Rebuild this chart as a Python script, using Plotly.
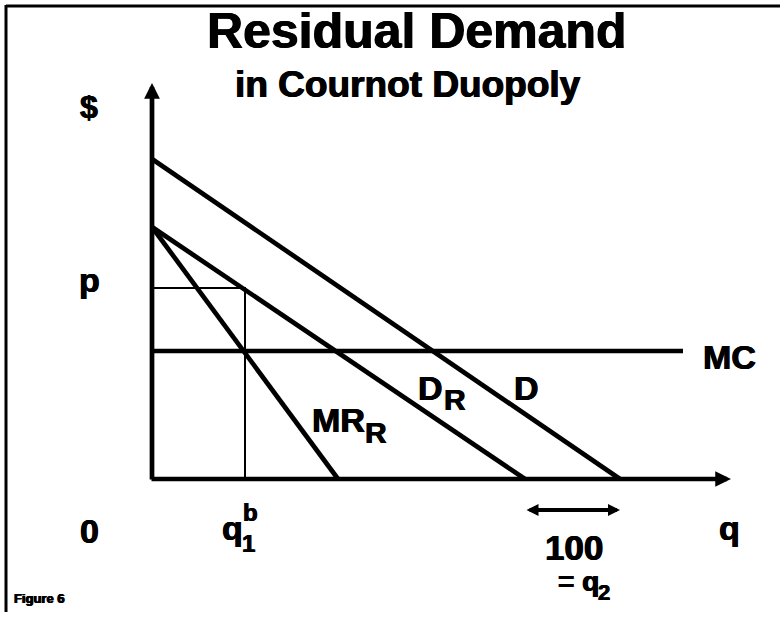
import plotly.graph_objects as go

# ---- data (arbitrary units: quantity q, price $) ----
demand_q = [0, 468]          # market demand D: q-intercept
demand_p = [320, 0]          # price intercept
resid_q = [0, 373]           # residual demand D_R
resid_p = [252, 0]
mr_q = [0, 186]              # residual marginal revenue MR_R
mr_p = [252, 0]
mc_q = [0, 531]              # marginal cost MC (flat)
mc_p = [128, 128]
q1b = 93                     # firm 1 best response quantity
p_eq = 191                   # price at q1b on D_R
q_axis_max = 579
p_axis_max = 396
gap_y = -31                  # level of the "100 = q2" bracket

W, H = 780, 623
X0, Y0 = 152, 479            # pixel of origin

fig = go.Figure()
LW = 4.7
for qs, ps in [(demand_q, demand_p), (resid_q, resid_p), (mr_q, mr_p), (mc_q, mc_p)]:
    fig.add_trace(go.Scatter(x=qs, y=ps, mode="lines",
                             line=dict(color="black", width=LW), hoverinfo="skip"))
# guide lines
fig.add_trace(go.Scatter(x=[0, q1b, q1b], y=[p_eq, p_eq, 0], mode="lines",
                         line=dict(color="black", width=2), hoverinfo="skip"))

ann = []
def arrow(x, y, ax, ay, side="end", w=4.7, size=0.67):
    ann.append(dict(x=x, y=y, ax=ax, ay=ay, xref="x", yref="y", axref="x", ayref="y",
                    text="", showarrow=True, arrowhead=2, arrowsize=size, arrowwidth=w,
                    arrowcolor="black", arrowside=side, standoff=0, startstandoff=0))
# axes
arrow(0, p_axis_max, 0, -2)
arrow(q_axis_max, 0, -2, 0)
# q2 bracket
arrow(demand_q[1], gap_y, resid_q[1], gap_y, side="end+start", w=4, size=0.6)

FONT = "Liberation Sans"
SHADOW = "0.6px 0 0 black, -0.6px 0 0 black"
def label(txt, px, py, size=34, anchor="center"):
    ann.append(dict(x=px - X0, y=Y0 - py, xref="x", yref="y", text="<b>%s</b>" % txt,
                    showarrow=False, xanchor=anchor, yanchor="middle",
                    font=dict(family=FONT, size=size, color="black", shadow=SHADOW)))

label("$", 89, 107, 32)
label("p", 89, 280, 34)
label("0", 89, 531, 34)
label("q", 729, 528, 34)
label("q", 232, 528, 34)
label("b", 250, 512, 24)
label("1", 248, 543, 24)
label("100", 574, 547, 35)
label("= q", 578, 581, 28)
label("2", 604, 592, 22)
label("MC", 729, 357, 34)
label("D", 526, 388, 34)
label("D", 430, 388, 34)
label("R", 455, 399, 30)
label("MR", 338, 420, 34)
label("R", 376, 432, 30)
label("Figure 6", 39, 598, 13)

# titles
ann.append(dict(x=417 / W, y=1 - 31 / H, xref="paper", yref="paper", showarrow=False,
                text="<b>Residual Demand</b>", xanchor="center", yanchor="middle",
                font=dict(family=FONT, size=50, color="black", shadow=SHADOW)))
ann.append(dict(x=408 / W, y=1 - 84 / H, xref="paper", yref="paper", showarrow=False,
                text="<b>in Cournot Duopoly</b>", xanchor="center", yanchor="middle",
                font=dict(family=FONT, size=37, color="black", shadow=SHADOW)))

shapes = [
    dict(type="line", xref="paper", yref="paper", x0=6 / W, x1=1, y0=1 - 6 / H, y1=1 - 6 / H,
         line=dict(color="black", width=3)),
    dict(type="line", xref="paper", yref="paper", x0=6 / W, x1=6 / W, y0=1 - 5 / H, y1=1 - 612 / H,
         line=dict(color="black", width=3)),
]

fig.update_layout(
    width=W, height=H, autosize=False,
    margin=dict(l=0, r=0, t=0, b=0),
    paper_bgcolor="white", plot_bgcolor="white",
    showlegend=False,
    xaxis=dict(range=[-X0, W - X0], visible=False, fixedrange=True),
    yaxis=dict(range=[Y0 - H, Y0], visible=False, fixedrange=True),
    annotations=ann, shapes=shapes,
)
fig.write_html("out.html", config={"displayModeBar": False},
               post_script="document.body.style.margin='0';document.body.style.overflow='hidden';")
